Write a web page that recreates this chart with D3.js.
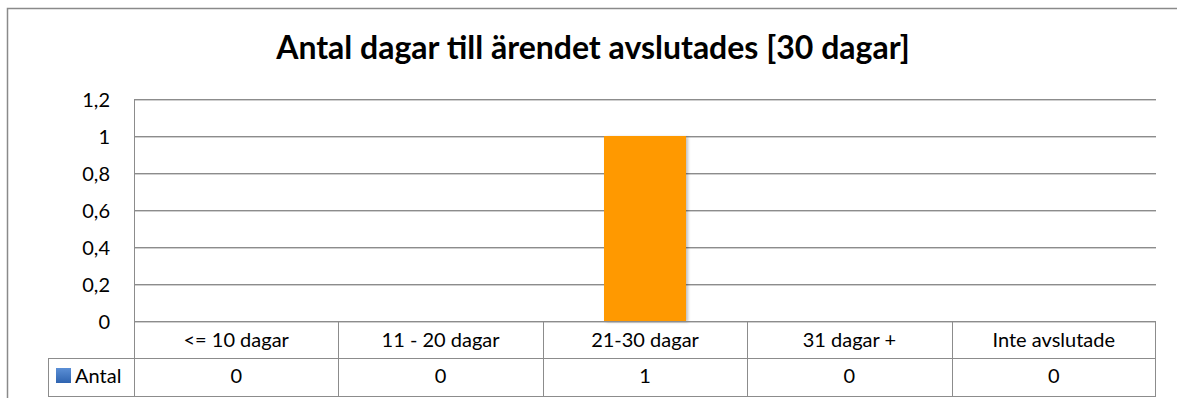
<!DOCTYPE html>
<html>
<head>
<meta charset="utf-8">
<script src="https://cdn.jsdelivr.net/npm/d3@7"></script>
<style>
  html, body { margin: 0; padding: 0; background: #fff; }
  svg { display: block; }
  text { font-family: Lato, "Open Sans", sans-serif; fill: #000; }
</style>
</head>
<body>
<svg id="chart" width="1177" height="398"></svg>
<script>
// Chart data
const title = "Antal dagar till ärendet avslutades [30 dagar]";
const seriesName = "Antal";
const categories = ["<= 10 dagar", "11 - 20 dagar", "21-30 dagar", "31 dagar +", "Inte avslutade"];
const values = [0, 0, 1, 0, 0];
const yTicks = [0, 0.2, 0.4, 0.6, 0.8, 1, 1.2];

const svg = d3.select("#chart");
const W = 1177, H = 398;
const plot = { left: 134, right: 1156, top: 99, bottom: 321 };
const rowH = [37, 39];      // category row, value row
const legendLeft = 48;
const labelSize = 20;

const defs = svg.append("defs");
const grad = defs.append("linearGradient").attr("id", "keyGrad")
  .attr("x1", 0).attr("y1", 0).attr("x2", 0).attr("y2", 1);
grad.append("stop").attr("offset", "0%").attr("stop-color", "#5b8fd6");
grad.append("stop").attr("offset", "100%").attr("stop-color", "#2f64b0");
const shadow = defs.append("filter").attr("id", "barShadow")
  .attr("x", "-10%").attr("y", "-10%").attr("width", "130%").attr("height", "130%");
shadow.append("feDropShadow").attr("dx", 2).attr("dy", 1).attr("stdDeviation", 1.5)
  .attr("flood-color", "#000").attr("flood-opacity", 0.25);

// Outer frame (continues past the right and bottom edges)
svg.append("path")
  .attr("d", `M7.5,${H + 2} V8.5 H${W + 2}`)
  .attr("fill", "none").attr("stroke", "#8a8a8a").attr("stroke-width", 1.5);

// Title
svg.append("text")
  .attr("x", 593).attr("y", 59)
  .attr("text-anchor", "middle")
  .attr("font-size", 32).attr("font-weight", "bold")
  .text(title);

const x = d3.scaleBand().domain(categories).range([plot.left, plot.right]).paddingInner(0).paddingOuter(0);
const y = d3.scaleLinear().domain([0, 1.2]).range([plot.bottom, plot.top]);
const fmt = v => d3.format(".1~f")(v).replace(".", ",");

// Gridlines with a soft shadow line underneath
const grid = svg.append("g");
grid.selectAll("line.shade").data(yTicks).join("line")
  .attr("x1", plot.left).attr("x2", plot.right)
  .attr("y1", d => Math.round(y(d)) + 1.5).attr("y2", d => Math.round(y(d)) + 1.5)
  .attr("stroke", "#cfcfcf").attr("stroke-width", 1);
grid.selectAll("line.main").data(yTicks).join("line")
  .attr("x1", plot.left).attr("x2", plot.right)
  .attr("y1", d => Math.round(y(d)) + 0.5).attr("y2", d => Math.round(y(d)) + 0.5)
  .attr("stroke", "#8c8c8c").attr("stroke-width", 1);

// Left edge of the plot area
svg.append("line")
  .attr("x1", plot.left + 0.5).attr("x2", plot.left + 0.5)
  .attr("y1", plot.top).attr("y2", plot.bottom)
  .attr("stroke", "#8c8c8c");

// Y axis labels
const yAxis = d3.axisLeft(y).tickValues(yTicks).tickFormat(fmt).tickSize(0).tickPadding(0);
const yg = svg.append("g").attr("transform", `translate(110,1)`).call(yAxis);
yg.select(".domain").remove();
yg.selectAll("text").attr("font-size", labelSize).attr("font-family", "Lato, sans-serif").attr("fill", "#000");

// Bars
const barW = 82;
svg.append("g").selectAll("rect").data(values).join("rect")
  .attr("x", (d, i) => x(categories[i]) + (x.bandwidth() - barW) / 2)
  .attr("width", barW)
  .attr("y", d => y(d))
  .attr("height", d => y(0) - y(d))
  .attr("fill", "#ff9900")
  .attr("filter", "url(#barShadow)");

// Data table below the plot
const table = svg.append("g");
const r0 = plot.bottom, r1 = plot.bottom + rowH[0], r2 = r1 + rowH[1];
const lineColor = "#8c8c8c";
const hl = (x1, x2, yy) => table.append("line").attr("x1", x1).attr("x2", x2)
  .attr("y1", yy + 0.5).attr("y2", yy + 0.5).attr("stroke", lineColor);
const vl = (xx, y1, y2) => table.append("line").attr("x1", xx + 0.5).attr("x2", xx + 0.5)
  .attr("y1", y1).attr("y2", y2).attr("stroke", lineColor);

hl(plot.left, plot.right, r0);
hl(legendLeft, plot.right, r1);
hl(legendLeft, plot.right, r2 - 1);
vl(legendLeft, r1, r2);
categories.forEach(c => vl(Math.round(x(c)), r0, r2));
vl(plot.right - 1, r0, r2);

table.selectAll("text.cat").data(categories).join("text")
  .attr("class", "cat")
  .attr("x", d => x(d) + x.bandwidth() / 2)
  .attr("y", r0 + 26)
  .attr("text-anchor", "middle").attr("font-size", labelSize)
  .text(d => d);

table.selectAll("text.val").data(values).join("text")
  .attr("class", "val")
  .attr("x", (d, i) => x(categories[i]) + x.bandwidth() / 2)
  .attr("y", r1 + 25)
  .attr("text-anchor", "middle").attr("font-size", labelSize)
  .text(d => fmt(d));

// Legend key in the value row
table.append("rect")
  .attr("x", 56).attr("y", r1 + 10).attr("width", 15).attr("height", 15)
  .attr("fill", "url(#keyGrad)");
table.append("text")
  .attr("x", 75).attr("y", r1 + 25)
  .attr("font-size", labelSize)
  .text(seriesName);
</script>
</body>
</html>
